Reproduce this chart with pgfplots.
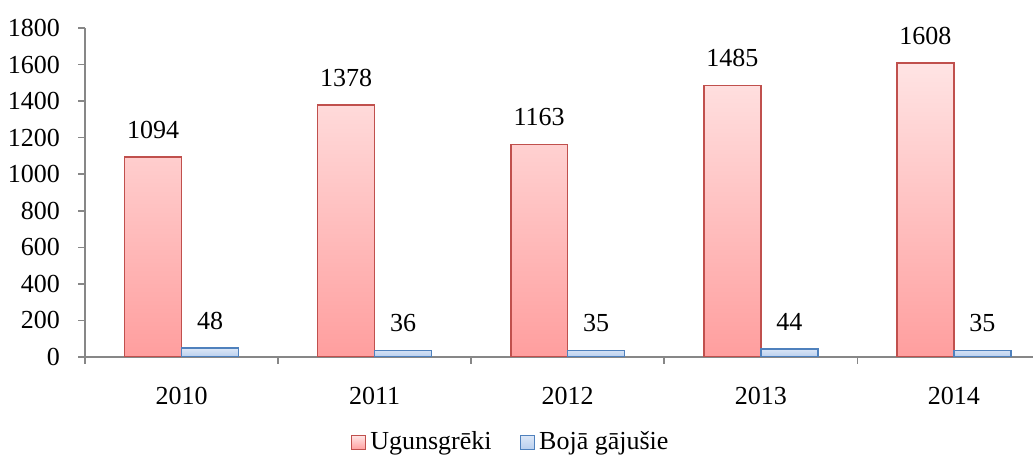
\documentclass[border=0pt]{standalone}
\usepackage{fontspec}
\setmainfont{Liberation Serif}
\usepackage{pgfplots}
\pgfplotsset{compat=1.18}
\definecolor{redline}{HTML}{C0504D}
\definecolor{redtop}{HTML}{FFE4E4}
\definecolor{redbot}{HTML}{FF9E9E}
\definecolor{blueline}{HTML}{4F81BD}
\definecolor{bluetop}{HTML}{DCE7F7}
\definecolor{bluebot}{HTML}{B9CFEE}
\definecolor{axisgray}{HTML}{878787}
\begin{document}
\fontsize{13bp}{15.5bp}\selectfont
\begin{tikzpicture}
\useasboundingbox (-42.5bp,-50.5bp) rectangle (474bp,178.5bp);
\begin{axis}[
  at={(0,0)}, anchor=south west,
  scale only axis, width=474bp, height=164.5bp,
  ybar=0pt, bar width=0.295,
  xmin=-0.5, xmax=4.41, ymin=0, ymax=1800,
  enlargelimits=false,
  axis x line=bottom, axis y line=left,
  axis line style={-, draw=axisgray, line width=0.8pt},
  tick align=outside,
  xtick={0,1,2,3,4},
  xticklabels={2010,2011,2012,2013,2014},
  minor xtick={-0.5,0.5,1.5,2.5,3.5},
  major x tick style={draw=none},
  minor x tick style={draw=axisgray, line width=0.8pt},
  minor tick length=3.5bp,
  ytick distance=200,
  major tick length=3.5bp,
  y tick style={draw=axisgray, line width=0.8pt},
  /pgf/number format/assume math mode=true,
  /pgf/number format/1000 sep={},
  xticklabel style={yshift=-7bp},
  yticklabel style={xshift=-4.5bp},
  nodes near coords,
  every node near coord/.append style={yshift=4.5bp},
  legend style={at={(0.45,-0.26)}, anchor=center, draw=none, fill=none,
    legend columns=2, /tikz/every even column/.append style={column sep=12bp}},
  legend image code/.code={\draw[#1, line width=0.8pt] (0bp,-3.5bp) rectangle (7bp,3.5bp);},
]
\addplot[draw=redline, line width=0.8pt, top color=redtop, bottom color=redbot]
  coordinates {(0,1094) (1,1378) (2,1163) (3,1485) (4,1608)};
\addplot[draw=blueline, line width=0.8pt, top color=bluetop, bottom color=bluebot]
  coordinates {(0,48) (1,36) (2,35) (3,44) (4,35)};
\legend{Ugunsgrēki, Bojā gājušie}
\end{axis}
\end{tikzpicture}
\end{document}
